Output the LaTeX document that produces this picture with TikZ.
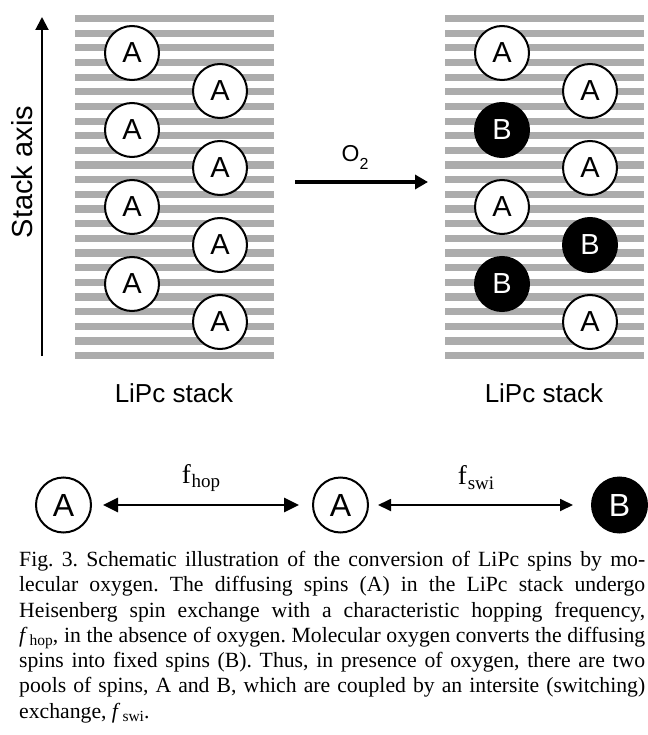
\documentclass[tikz,border=0pt]{standalone}
\usepackage{fontspec}
\setmainfont{Liberation Sans}
\newfontfamily\capfont{Liberation Serif}
\usetikzlibrary{arrows.meta}
\definecolor{stripegray}{RGB}{172,172,172}
\newcommand{\capsub}[1]{\textit{f}\kern2pt\raisebox{-0.35ex}{\fontsize{15.5}{15.5}\selectfont #1}}
\newcommand{\lblsub}[1]{f\kern1pt\raisebox{-0.4ex}{\fontsize{19}{19}\selectfont #1}}
\begin{document}
\frenchspacing
\begin{tikzpicture}[x=1pt,y=-1pt,
  spinA/.style={circle,draw=black,line width=2pt,fill=white,minimum size=54pt,inner sep=0pt,
    font=\fontsize{29}{29}\selectfont},
  spinB/.style={spinA,fill=black,text=white},
  rowA/.style={spinA,minimum size=55pt,font=\fontsize{32}{32}\selectfont},
  rowB/.style={rowA,fill=black,text=white},
  stacklabel/.style={font=\fontsize{26}{26}\selectfont},
  freqlabel/.style={font=\capfont\fontsize{27}{27}\selectfont}]
\useasboundingbox (0,0) rectangle (647,735);
\fill[white] (0,0) rectangle (647,735);
% stripes
\foreach \i in {0,...,23}{
  \fill[stripegray] (75,{15+\i*14.65}) rectangle (274,{22.2+\i*14.65});
  \fill[stripegray] (445,{15+\i*14.65}) rectangle (644,{22.2+\i*14.65});
}
% left stack spins
\node[spinA] (l1) at (132,53) {A};
\node[spinA] (l2) at (132,130) {A};
\node[spinA] (l3) at (132,207) {A};
\node[spinA] (l4) at (132,284) {A};
\node[spinA] (l5) at (220,91) {A};
\node[spinA] (l6) at (220,168) {A};
\node[spinA] (l7) at (220,245) {A};
\node[spinA] (l8) at (220,322) {A};
% right stack spins
\node[spinA] (r1) at (502,53) {A};
\node[spinB] (r2) at (502,130) {B};
\node[spinA] (r3) at (502,207) {A};
\node[spinB] (r4) at (502,284) {B};
\node[spinA] (r5) at (590,91) {A};
\node[spinA] (r6) at (590,168) {A};
\node[spinB] (r7) at (590,245) {B};
\node[spinA] (r8) at (590,322) {A};
% stack axis
\coordinate (ax0) at (42,356);
\coordinate (ax1) at (42,17);
\draw[line width=2pt,-{Triangle[length=13pt,width=13pt]}] (ax0) -- (ax1);
\node[rotate=90,font=\fontsize{29}{29}\selectfont] (axl) at (22.5,172) {Stack axis};
% O2 arrow
\coordinate (o0) at (295,182);
\coordinate (o1) at (428,182);
\draw[line width=4pt,-{Triangle[length=13pt,width=14pt]}] (o0) -- (o1);
\node[font=\fontsize{23}{23}\selectfont] (o2l) at (355,157) {O\raisebox{-8pt}{\fontsize{16}{16}\selectfont 2}};
% stack labels
\node[stacklabel] (sl1) at (174,393) {LiPc stack};
\node[stacklabel] (sl2) at (544,393) {LiPc stack};
% bottom row
\node[rowA] (bA1) at (63.5,505) {A};
\node[rowA] (bA2) at (340.5,505) {A};
\node[rowB] (bB) at (619.5,505) {B};
\draw[line width=2.7pt,{Triangle[length=15pt,width=14pt]}-{Triangle[length=15pt,width=14pt]},
  shorten <=11pt, shorten >=13pt] (bA1.east) -- (bA2.west);
\draw[line width=1.8pt,{Triangle[length=13pt,width=12pt]}-{Triangle[length=13pt,width=12pt]},
  shorten <=9pt, shorten >=18pt] (bA2.east) -- (bB.west);
\node[freqlabel] (fh) at (201,478) {\lblsub{hop}};
\node[freqlabel] (fs) at (476,478) {\lblsub{swi}};
% caption
\node[anchor=north west,inner sep=0pt,align=left,font=\capfont\fontsize{21.7}{25.3}\selectfont] (cap) at (19,551) {%
\hbox to 626pt{Fig. 3. Schematic illustration of the conversion of LiPc spins by mo-}\\
\hbox to 626pt{lecular oxygen. The diffusing spins (A) in the LiPc stack undergo}\\
\hbox to 626pt{Heisenberg spin exchange with a characteristic hopping frequency,}\\
\hbox to 626pt{\capsub{hop}, in the absence of oxygen. Molecular oxygen converts the diffusing}\\
\hbox to 626pt{spins into fixed spins (B). Thus, in presence of oxygen, there are two}\\
\hbox to 626pt{pools of spins, A and B, which are coupled by an intersite (switching)}\\
exchange, \capsub{swi}.};
\end{tikzpicture}
\end{document}
